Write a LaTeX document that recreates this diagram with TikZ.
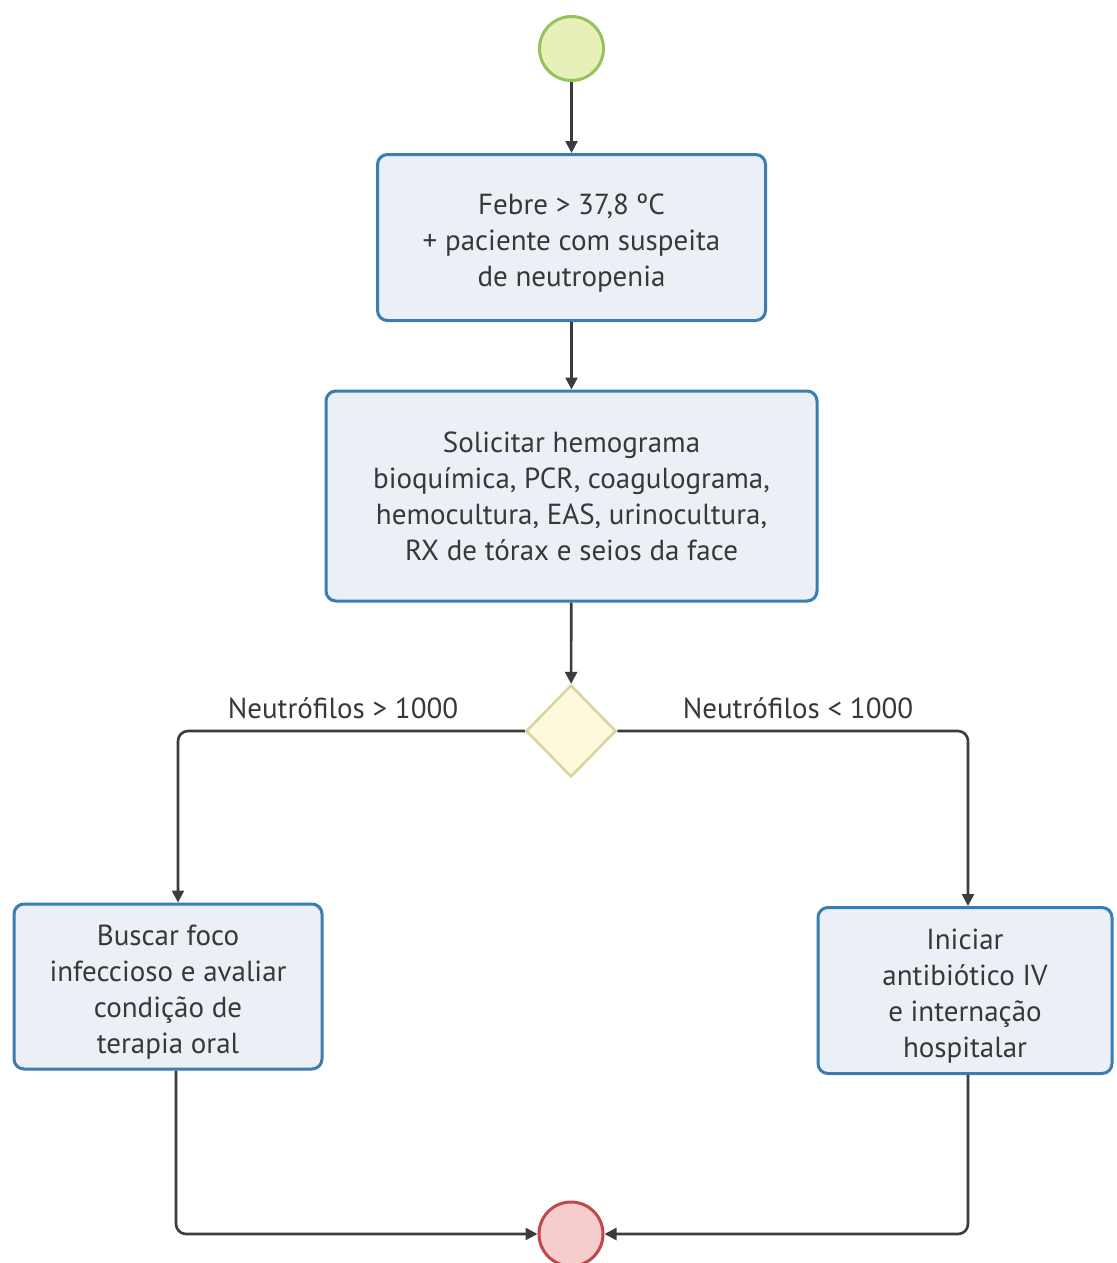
\documentclass[tikz,border=0pt]{standalone}
\usepackage{fontspec}
\setmainfont{PT Sans}
\usetikzlibrary{arrows.meta,shapes.geometric}
\definecolor{boxline}{HTML}{3A7DB0}
\definecolor{boxfill}{HTML}{EAF0F6}
\definecolor{txt}{HTML}{383838}
\definecolor{linec}{HTML}{3C3C3C}
\definecolor{startfill}{HTML}{E6F0B8}
\definecolor{startline}{HTML}{95C25A}
\definecolor{endfill}{HTML}{F6CDCD}
\definecolor{endline}{HTML}{C0484A}
\definecolor{decfill}{HTML}{FCFADB}
\definecolor{decline}{HTML}{D8D49C}
% taller first line, so the text block sits a little lower in its box
\newcommand\firstlinestrut{\rule{0pt}{32pt}}
\begin{document}
\begin{tikzpicture}[x=1pt,y=-1pt,
  proc/.style={draw=boxline, fill=boxfill, line width=3pt, rounded corners=10pt,
    align=center, text=txt, font=\fontsize{29}{36}\selectfont, inner sep=0pt},
  flow/.style={draw=linec, line width=2.6pt, rounded corners=10pt,
    -{Triangle[length=12pt,width=12pt]}},
  lbl/.style={text=txt, font=\fontsize{29}{36}\selectfont, inner sep=0pt, anchor=base},
  terminal/.style={circle, line width=3pt, minimum size=64pt, inner sep=0pt},
]
\useasboundingbox (0,0) rectangle (1116,1263);

% start / end events
\node[terminal, draw=startline, fill=startfill] (start) at (571.5,48.5) {};
\node[terminal, draw=endline, fill=endfill] (end) at (571,1234) {};

% process steps
\node[proc, minimum width=388pt, minimum height=166pt] (b1) at (571.5,237.5)
  {\firstlinestrut Febre > 37,8 ºC\\+ paciente com suspeita\\de neutropenia};
\node[proc, minimum width=491pt, minimum height=210pt] (b2) at (571.5,496)
  {Solicitar hemograma\\bioquímica, PCR, coagulograma,\\hemocultura, EAS, urinocultura,\\RX de tórax e seios da face};
\node[proc, minimum width=308pt, minimum height=165pt] (b3) at (168,986.5)
  {\firstlinestrut Buscar foco\\infeccioso e avaliar\\condição de\\terapia oral};
\node[proc, minimum width=294pt, minimum height=166pt] (b4) at (965,990.5)
  {\firstlinestrut Iniciar\\antibiótico IV\\e internação\\hospitalar};

% decision
\node[diamond, draw=decline, fill=decfill, line width=2.5pt, inner sep=0pt,
  minimum width=90pt, minimum height=92pt] (dec) at (571,731) {};

% branch labels
\node[lbl] (lgt) at (343,718) {Neutrófilos > 1000};
\node[lbl] (llt) at (798,718) {Neutrófilos < 1000};

% connectors
\draw[flow] (start) -- (b1);
\draw[flow] (b1) -- (b2);
\draw[flow] (b2) -- (dec);
\draw[flow] (dec.west) -| ([xshift=10pt]b3.north);
\draw[flow] (dec.east) -| ([xshift=3pt]b4.north);
\draw[flow] ([xshift=8pt]b3.south) |- (end.west);
\draw[flow] ([xshift=3pt]b4.south) |- (end.east);
\end{tikzpicture}
\end{document}
